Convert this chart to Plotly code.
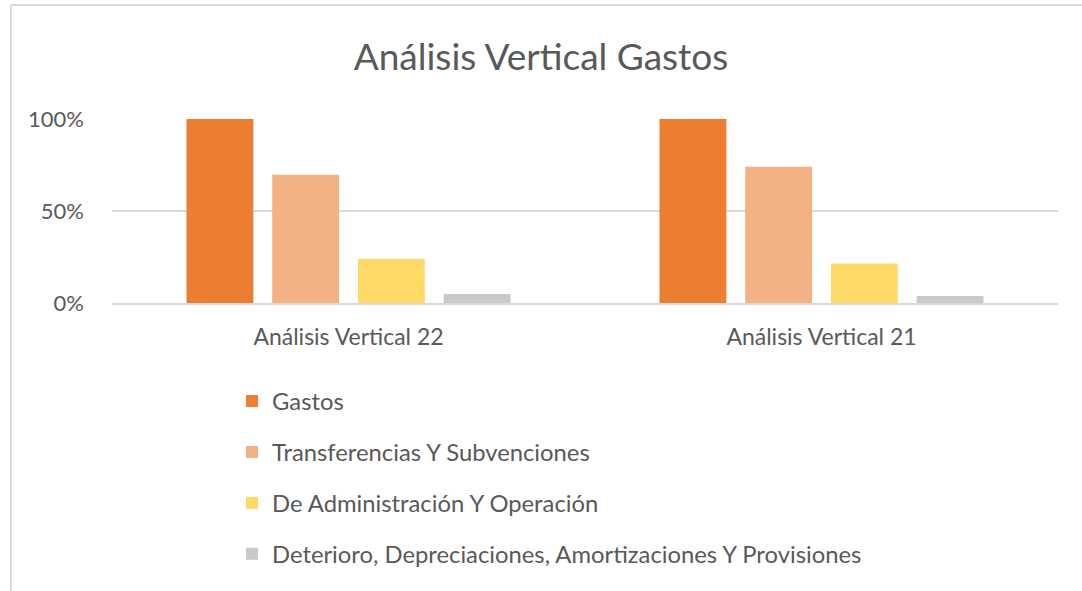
import plotly.graph_objects as go

categories = ["Análisis Vertical 22", "Análisis Vertical 21"]
series_names = [
    "Gastos",
    "Transferencias Y Subvenciones",
    "De Administración Y Operación",
    "Deterioro, Depreciaciones, Amortizaciones Y Provisiones",
]
gastos = [1.00, 1.00]
transferencias = [0.697, 0.741]
administracion = [0.239, 0.214]
deterioro = [0.049, 0.038]
colors = ["#ED7D31", "#F4B183", "#FFD966", "#C9C9C9"]

values = [gastos, transferencias, administracion, deterioro]

FONT = "Lato"
TXT = "#595959"

fig = go.Figure()
for name, vals, col in zip(series_names, values, colors):
    fig.add_trace(go.Bar(
        x=categories, y=vals, name=name, legendgroup=name,
        marker=dict(color=col, line=dict(width=0)),
    ))

W, H = 1082, 591
ml, mr, mt, mb = 112, 24, 119, 288
pw, ph = W - ml - mr, H - mt - mb

def px_x(x):
    return (x - ml) / pw

def px_y(y):
    return (H - mb - y) / ph

fig.update_layout(
    width=W, height=H,
    margin=dict(l=ml, r=mr, t=mt, b=mb, autoexpand=False),
    paper_bgcolor="white", plot_bgcolor="white",
    barmode="group", bargap=0.275, bargroupgap=0.22,
    title=dict(text="Análisis Vertical Gastos", x=0.5, xanchor="center",
               y=1 - 57 / H, yanchor="middle",
               font=dict(family=FONT, size=37, color=TXT)),
    font=dict(family=FONT, color=TXT),
    xaxis=dict(showgrid=False, showline=True, linecolor="#D9D9D9", linewidth=2,
               ticks="", ticklabelstandoff=12,
               tickfont=dict(family=FONT, size=23, color=TXT)),
    yaxis=dict(range=[0, 1], tickvals=[0, 0.5, 1], ticktext=["0%", "50%", "100%"],
               showgrid=True, gridcolor="#D9D9D9", gridwidth=2, zeroline=False,
               showline=False, ticks="", ticklabelstandoff=27,
               tickfont=dict(family=FONT, size=22, color=TXT)),
    showlegend=True,
    legend=dict(orientation="v", x=px_x(232), xanchor="left",
                y=px_y(379), yanchor="top", traceorder="grouped",
                tracegroupgap=17, font=dict(family=FONT, size=23.8, color=TXT),
                bgcolor="rgba(0,0,0,0)"),
    shapes=[
        dict(type="line", xref="paper", yref="paper",
             x0=px_x(11), x1=px_x(11), y0=px_y(5), y1=px_y(H + 5),
             line=dict(color="#D9D9D9", width=2)),
        dict(type="line", xref="paper", yref="paper",
             x0=px_x(11), x1=px_x(W + 5), y0=px_y(5), y1=px_y(5),
             line=dict(color="#D9D9D9", width=2)),
    ],
)

fig.write_html("out.html", config={"displayModeBar": False},
               post_script="document.body.style.margin='0';")
